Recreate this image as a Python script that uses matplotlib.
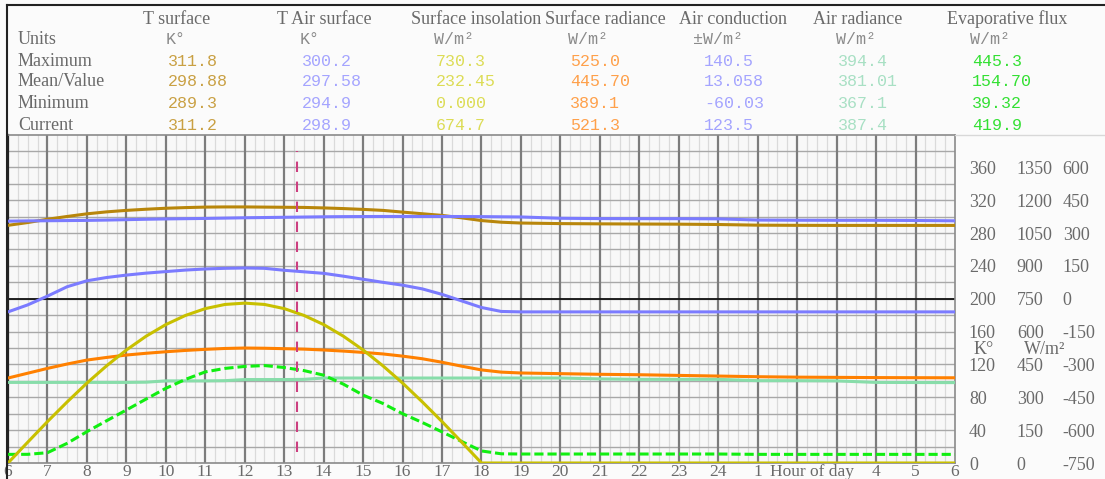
import matplotlib
matplotlib.use("Agg")
import matplotlib.pyplot as plt
import matplotlib.transforms as mtransforms

# ---------------- data ----------------
hours = [6, 6.5, 7, 7.5, 8, 8.5, 9, 9.5, 10, 10.5, 11, 11.5, 12, 12.5, 13, 13.5,
         14, 14.5, 15, 15.5, 16, 16.5, 17, 17.5, 18, 18.5, 19, 20, 21, 22, 23,
         24, 25, 26, 27, 28, 29, 30]

t_surface = [289.4, 292.8, 296.8, 300.2, 303.4, 305.8, 307.6, 309.0, 310.2, 311.0,
             311.6, 311.8, 311.8, 311.6, 311.4, 311.2, 310.6, 309.8, 308.8, 307.6,
             305.5, 303.5, 301.5, 298.5, 295.2, 293.2, 292.2, 291.5, 291.2, 291.0,
             290.8, 290.4, 289.6, 289.4, 289.3, 289.3, 289.3, 289.3]

t_air = [294.5, 294.8, 295.0, 295.2, 295.4, 295.8, 296.3, 296.8, 297.2, 297.5,
         297.8, 298.2, 298.6, 298.9, 299.2, 299.5, 299.8, 300.0, 300.1, 300.2,
         300.2, 300.2, 300.2, 300.1, 300.0, 299.8, 299.6, 298.0, 297.6, 297.5,
         297.5, 297.3, 295.8, 295.6, 295.5, 295.5, 295.3, 294.9]

insolation = [0, 95, 189, 279, 365, 444, 516, 579, 632, 674, 705, 724, 730, 724,
              705, 674, 632, 579, 516, 444, 365, 279, 189, 95, 0, 0, 0, 0, 0, 0,
              0, 0, 0, 0, 0, 0, 0, 0]

surface_radiance = [388, 410, 432, 452, 470, 482, 493, 501, 508, 514, 519, 523,
                    525, 524, 522, 520, 516, 511, 505, 498, 488, 476, 460, 442,
                    425, 415, 411, 408, 405, 403, 400, 397, 394, 392, 391, 390,
                    389.5, 389.1]

air_conduction = [-60, -28, 12, 55, 82, 97, 108, 117, 124, 131, 136, 139, 140.5,
                  139, 130, 123, 116, 103, 89, 75, 62, 45, 20, -10, -40, -58,
                  -60, -60, -60, -60, -60, -60, -60, -60, -60, -60, -60, -60]

air_radiance = [368, 368, 368, 368, 368, 368, 368, 369, 375, 375, 375, 376, 381,
                381, 381, 382, 388, 388, 388, 388, 388, 388, 388, 388, 388, 388,
                388, 388, 384, 382, 382, 382, 376, 376, 375, 368, 367.5, 367.1]

evaporative_flux = [39.4, 39.6, 47, 90, 143, 193, 242, 292, 341, 382, 416, 432,
                    441, 445, 436, 422, 401, 360, 310, 272, 225, 185, 142, 98,
                    55, 42, 41, 41, 41, 41, 41, 41, 39.5, 39.4, 39.4, 39.4, 39.4,
                    39.4]

current_hour = 13.33

series_titles = ["T surface", "T Air surface", "Surface insolation",
                 "Surface radiance", "Air conduction", "Air radiance",
                 "Evaporative flux"]
series_units = ["K°", "K°", "W/m²", "W/m²", "±W/m²", "W/m²", "W/m²"]
row_names = ["Units", "Maximum", "Mean/Value", "Minimum", "Current"]
stat_max = ["311.8", "300.2", "730.3", "525.0", "140.5", "394.4", "445.3"]
stat_mean = ["298.88", "297.58", "232.45", "445.70", "13.058", "381.01", "154.70"]
stat_min = ["289.3", "294.9", "0.000", "389.1", "-60.03", "367.1", "39.32"]
stat_current = ["311.2", "298.9", "674.7", "521.3", "123.5", "387.4", "419.9"]

x_tick_hours = list(range(6, 31))
x_tick_labels = ["6", "7", "8", "9", "10", "11", "12", "13", "14", "15", "16",
                 "17", "18", "19", "20", "21", "22", "23", "24", "1", "", "",
                 "4", "5", "6"]
k_ticks = [0, 40, 80, 120, 160, 200, 240, 280, 320, 360]
w_ticks = [0, 150, 300, 450, 600, 750, 900, 1050, 1200, 1350]
c_ticks = [-750, -600, -450, -300, -150, 0, 150, 300, 450, 600]

# ---------------- styling ----------------
W, H = 1105, 479
SERIF = "Liberation Serif"
MONO = "Liberation Mono"
LABEL_GRAY = "#6a6a6a"
line_colors = ["#b8860b", "#7b7bff", "#c8c000", "#ff8000", "#7b7bff", "#88ddaa", "#11ee11"]
text_colors = ["#c9a043", "#a4a4ff", "#dcdc55", "#ffa04a", "#a4a4ff", "#a8e0c4", "#33e033"]


def fx(x):
    return x / W


def fy(y):
    return 1 - y / H


fig = plt.figure(figsize=(W / 100, H / 100), dpi=100, facecolor="#fbfbfb")

# axes in pixel geometry
L, R, B, T = 8, 955, 463, 134.5
ax = fig.add_axes([fx(L), fy(B), fx(R) - fx(L), fy(T) - fy(B)])
ax.set_facecolor("#f8f8f8")
ax.set_xlim(6, 30)
ax.set_ylim(0, 400)

# grid
q = 6.0
while q <= 30.0001:
    if abs(q - round(q)) > 1e-6:
        ax.axvline(q, color="#dadada", lw=0.9, zorder=0)
    q += 0.25
for yv in range(20, 400, 20):
    ax.axhline(yv, color="#a8a8a8", lw=1.0, zorder=0.5)
for h in range(7, 30):
    ax.axvline(h, color="#7c7c7c", lw=1.6, zorder=0.6)
ax.axhline(200, color="#111111", lw=1.3, zorder=0.7)

for s in ["top", "right", "bottom"]:
    ax.spines[s].set_color("#8a8a8a")
    ax.spines[s].set_linewidth(1.2)
ax.spines["left"].set_color("#222222")
ax.spines["left"].set_linewidth(1.6)

# secondary scales (share the hour axis)
ax_w = ax.twinx()
ax_w.set_ylim(0, 1500)
ax_c = ax.twinx()
ax_c.set_ylim(-750, 750)
for a in (ax_w, ax_c):
    for s in a.spines.values():
        s.set_visible(False)

LW = 2.2
ax.plot(hours, t_surface, color=line_colors[0], lw=LW, zorder=3)
ax.plot(hours, t_air, color=line_colors[1], lw=LW, zorder=3)
ax_c.plot(hours, air_conduction, color=line_colors[4], lw=LW, zorder=3)
ax_w.plot(hours, air_radiance, color=line_colors[5], lw=LW, zorder=3)
ax_w.plot(hours, surface_radiance, color=line_colors[3], lw=LW, zorder=3)
ax_w.plot(hours, evaporative_flux, color=line_colors[6], lw=LW, zorder=3,
          dashes=(3, 1.3))
ax_w.plot(hours, insolation, color=line_colors[2], lw=LW, zorder=3)
ax_w.axvline(current_hour, ymin=0.034, ymax=0.95, color="#cc3f80", lw=1.5,
             dashes=(5, 4.6), zorder=4)

# right-side tick columns
ax.yaxis.tick_right()
ax.set_yticks(k_ticks)
ax.set_yticklabels([str(v) for v in k_ticks])
ax.tick_params(axis="y", length=0, pad=10, labelsize=13, labelcolor=LABEL_GRAY)
ax_w.set_yticks(w_ticks)
ax_w.set_yticklabels([str(v) for v in w_ticks])
ax_w.tick_params(axis="y", length=0, pad=44.5, labelsize=13, labelcolor=LABEL_GRAY)
ax_c.set_yticks(c_ticks)
ax_c.set_yticklabels([str(v) for v in c_ticks])
ax_c.tick_params(axis="y", length=0, pad=77.5, labelsize=13, labelcolor=LABEL_GRAY)
for a in (ax, ax_w, ax_c):
    for lab in a.get_yticklabels():
        lab.set_fontfamily(SERIF)

# x ticks (hour of day)
ax.set_xticks(x_tick_hours)
ax.set_xticklabels(x_tick_labels, fontfamily=SERIF)
ax.tick_params(axis="x", length=0, pad=0.5, labelsize=12.5, labelcolor=LABEL_GRAY)
trans = mtransforms.blended_transform_factory(ax.transData, fig.transFigure)
ax.text(25.32, fy(471.5), "Hour of day", transform=trans, ha="left", va="center",
        fontsize=12.5, fontfamily=SERIF, color=LABEL_GRAY, clip_on=False)

# unit labels beside the right scale
fig.text(fx(984), fy(349), "K°", ha="center", va="center", fontsize=13,
         fontfamily=SERIF, color=LABEL_GRAY)
fig.text(fx(1045), fy(349), "W/m²", ha="center", va="center", fontsize=13,
         fontfamily=SERIF, color=LABEL_GRAY)

# ---------------- header table ----------------
row_y = [39, 61, 82, 104, 125]
for name, yy in zip(row_names, row_y):
    fig.text(fx(18), fy(yy), name, ha="left", va="center", fontsize=13,
             fontfamily=SERIF, color=LABEL_GRAY)

col_x0 = 143
col_dx = 134
stats_rows = [stat_max, stat_mean, stat_min, stat_current]
for i, title in enumerate(series_titles):
    x0 = col_x0 + col_dx * i
    fig.text(fx(x0), fy(19), title, ha="left", va="center", fontsize=13,
             fontfamily=SERIF, color=LABEL_GRAY)
    ux = x0 + 23 if not series_units[i].startswith("±") else x0 + 14
    fig.text(fx(ux), fy(39), series_units[i], ha="left", va="center",
             fontsize=12, fontfamily=MONO, color="#8a8a8a")
    for rr, yy in zip(stats_rows, row_y[1:]):
        fig.text(fx(x0 + 25), fy(yy), rr[i], ha="left", va="center",
                 fontsize=12, fontfamily=MONO, color=text_colors[i])

# outer frame lines
fig.add_artist(plt.Line2D([fx(7), fx(7)], [fy(5), 0], transform=fig.transFigure,
                          color="#222222", lw=1.5))
fig.add_artist(plt.Line2D([fx(7), 1], [fy(5), fy(5)], transform=fig.transFigure,
                          color="#222222", lw=1.5))
fig.add_artist(plt.Line2D([fx(R), 1], [fy(T), fy(T)], transform=fig.transFigure,
                          color="#d8d8d8", lw=1.0))

fig.savefig("out.png", dpi=100, facecolor=fig.get_facecolor())
